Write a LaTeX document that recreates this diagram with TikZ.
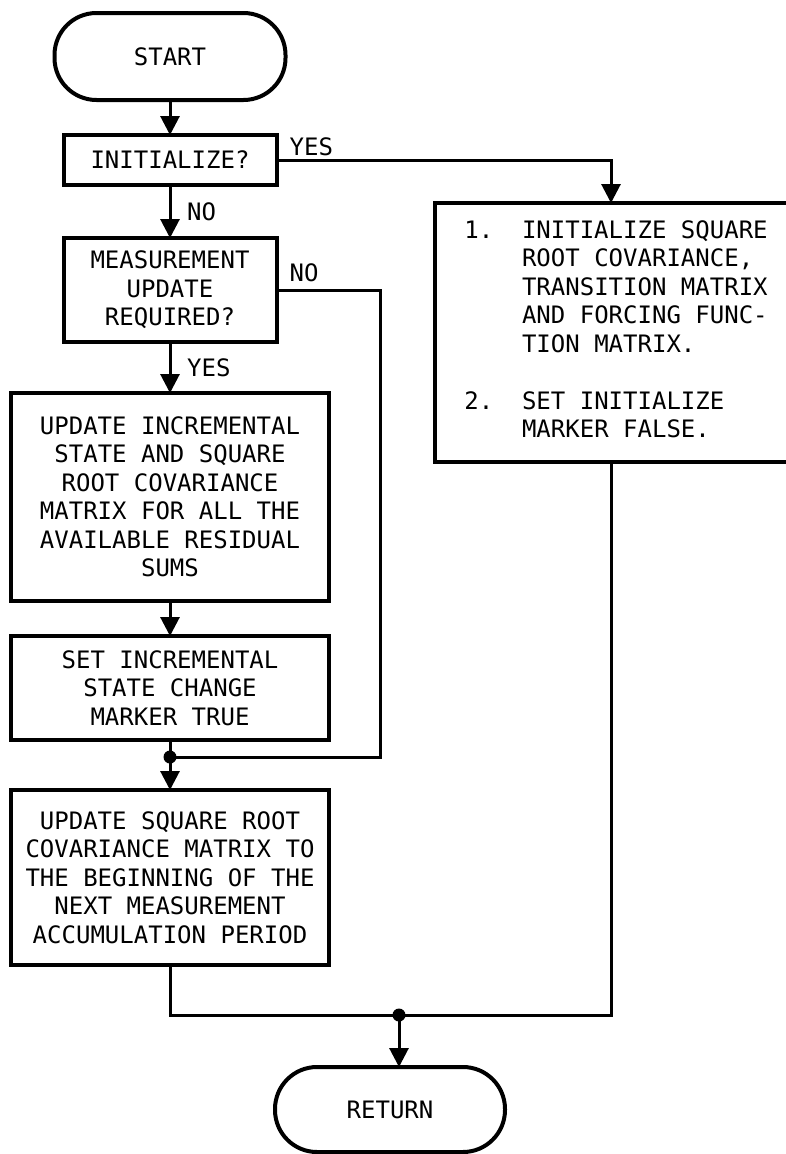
\documentclass[tikz,border=0pt]{standalone}
\usepackage{fontspec}
\setmonofont{DejaVu Sans Mono}
\usetikzlibrary{arrows.meta, positioning, calc}

\begin{document}
\begin{tikzpicture}[
    x=1pt, y=1pt,
    font=\ttfamily\fontsize{24}{28.5}\selectfont,
    terminal/.style={rectangle, draw, line width=4pt, rounded corners=42pt, minimum width=231pt, minimum height=87pt, outer sep=0pt},
    process/.style={rectangle, draw, line width=4pt, minimum width=318pt, align=center, outer sep=0pt},
    answer/.style={inner sep=0pt},
    wire/.style={line width=3pt},
    flow/.style={wire, -{Triangle[length=19pt, width=19pt]}}
]
    \useasboundingbox (0,0) rectangle (785,-1154);

    \node[terminal] (start) at (170,-56.5) {START};
    \node[process, minimum width=213pt, minimum height=50pt, below=35pt of start] (init) {INITIALIZE?};
    \node[process, minimum width=213pt, minimum height=104pt, below=53pt of init] (meas) {MEASUREMENT\\ UPDATE\\ REQUIRED?};
    \node[process, minimum height=208pt, below=51pt of meas] (upinc) {UPDATE INCREMENTAL\\ STATE AND SQUARE\\ ROOT COVARIANCE\\ MATRIX FOR ALL THE\\ AVAILABLE RESIDUAL\\ SUMS};
    \node[process, minimum height=104pt, below=35pt of upinc] (setinc) {SET INCREMENTAL\\ STATE CHANGE\\ MARKER TRUE};
    \coordinate[below=17pt of setinc] (j1);
    \node[process, minimum height=175pt, below=50pt of setinc] (upsq) {UPDATE SQUARE ROOT\\ COVARIANCE MATRIX TO\\ THE BEGINNING OF THE\\ NEXT MEASUREMENT\\ ACCUMULATION PERIOD};
    \node[process, minimum width=353pt, minimum height=259pt, below right=18pt and 158pt of init] (initbox) {%
        \begin{tabular}{@{\hspace{10pt}}l@{\hspace{1.2em}}l@{}}
            1. & INITIALIZE SQUARE\\
               & ROOT COVARIANCE,\\
               & TRANSITION MATRIX\\
               & AND FORCING FUNC-\\
               & TION MATRIX.\\
               & \\
            2. & SET INITIALIZE\\
               & MARKER FALSE.
        \end{tabular}};
    \coordinate (j2) at (399,-1015);
    \node[terminal, minimum width=230pt, minimum height=85pt, below=52pt of j2, xshift=-9pt] (ret) {RETURN};

    % branch labels
    \node[answer, anchor=south west] (yes1) at ([shift={(13,4)}]init.east) {YES};
    \node[answer, anchor=west] (no1) at ($(init.south)!0.5!(meas.north)+(17,0)$) {NO};
    \node[answer, anchor=south west] (no2) at ([shift={(13,8)}]meas.east) {NO};
    \node[answer, anchor=west] (yes2) at ($(meas.south)!0.5!(upinc.north)+(17,0)$) {YES};

    \draw[flow] (start) -- (init);
    \draw[flow] (init) -- (meas);
    \draw[flow] (init.east) -| (initbox.north);
    \draw[flow] (meas) -- (upinc);
    \draw[wire] (meas.east) -- ++(104,0) |- (j1);
    \draw[flow] (upinc) -- (setinc);
    \draw[wire] (setinc) -- (j1);
    \draw[flow] (j1) -- (upsq);
    \draw[wire] (upsq.south) |- (j2);
    \draw[wire] (initbox.south) |- (j2);
    \draw[flow] (j2) -- (j2 |- ret.north);
    \fill (j1) circle (6.5);
    \fill (j2) circle (6.5);
\end{tikzpicture}
\end{document}
